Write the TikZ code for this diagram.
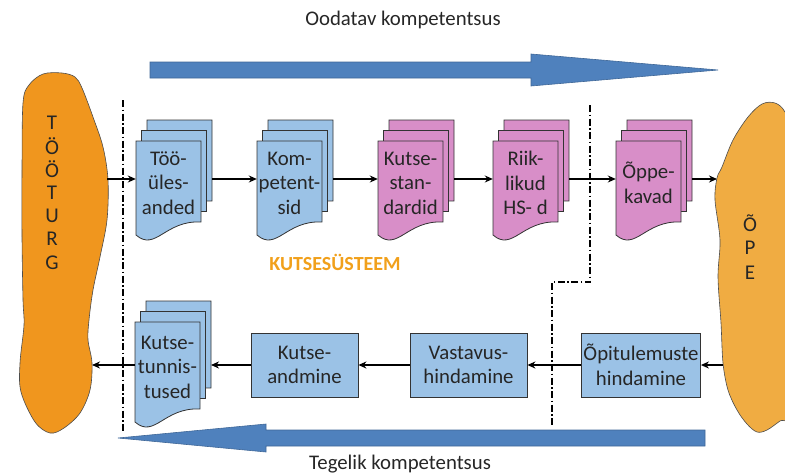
\documentclass[tikz,border=0pt]{standalone}
\usepackage{fontspec}
\setmainfont{Carlito}
\usetikzlibrary{arrows.meta}
\definecolor{docblue}{RGB}{155,194,230}
\definecolor{docpink}{RGB}{216,142,200}
\definecolor{turgorange}{RGB}{240,150,30}
\definecolor{opeorange}{RGB}{240,172,66}
\definecolor{bigblue}{RGB}{79,129,189}
\definecolor{textgray}{RGB}{38,38,38}
\begin{document}
\begin{tikzpicture}
[x=1pt,y=-1pt,
  pagedecorate/.style={draw=black!80,line width=0.8pt},%
  doctext/.style={text=textgray,align=center,inner sep=0pt,minimum width=65pt,
    font=\fontsize{20.8}{24.5}\selectfont},%
  boxdecorate/.style={draw=black!80,line width=0.8pt,fill=docblue,text=textgray,
    align=center,inner sep=2pt,minimum height=64pt,font=\fontsize{20.8}{24.5}\selectfont},%
  blobdecorate/.style={draw=black!70,line width=0.6pt},%
  blobletter/.style={text=textgray,inner sep=0pt,font=\fontsize{21}{24}\selectfont},%
  linedecorate/.style={-{Stealth[length=8pt,width=7pt]},line width=1.3pt},%
  dashdotdecorate/.style={line width=1.3pt,
    dash pattern=on 7pt off 2.5pt on 1.5pt off 2.5pt},%
  bigarrow/.style={fill=bigblue,draw=bigblue!80!black,line width=0.6pt}]
\useasboundingbox (0,0) rectangle (785,475);
\clip (0,0) rectangle (785,475);
%% labels above and below
\node (expected) at (403,20) {\fontsize{20.8}{24}\selectfont\color{textgray}Oodatav kompetentsus};
\node (actual) at (400,464) {\fontsize{20.8}{24}\selectfont\color{textgray}Tegelik kompetentsus};
%% big arrows
\filldraw[bigarrow] (150,62) -- (531,62) -- (531,54) -- (718,70) -- (531,86)
  -- (531,78) -- (150,78) -- cycle;
\filldraw[bigarrow] (705,430) -- (266,430) -- (266,424) -- (118,438) -- (266,452)
  -- (266,446) -- (705,446) -- cycle;
%% left and right blobs
\filldraw[blobdecorate,fill=turgorange] plot[smooth cycle,tension=0.55] coordinates
  {(43,74) (62,73) (75,77) (82,88) (93,117) (103,147) (108,180) (107,220)
   (100,257) (93,290) (89,320) (88,340) (92,363) (90,390) (80,413) (64,428)
   (50,433) (35,422) (21,392) (20,363) (24,325) (23,300) (22,237) (22,170)
   (23,103) (29,85)};
\foreach \letter [count=\i] in {T,Ö,Ö,T,U,R,G}
  \node[blobletter] (turg-\i) at (52,100+23.2*\i) {\letter};
\filldraw[blobdecorate,fill=opeorange] plot[smooth cycle,tension=0.55] coordinates
  {(762,104) (775,103) (785,112) (796,140) (800,300) (796,410) (780,421)
   (767,430) (757,432) (747,424) (737,410) (728,390) (723,363) (721,323)
   (718,277) (720,240) (715,200) (717,178) (722,167) (733,140) (748,117)};
\foreach \letter/\y in {Õ/223, P/248, E/273}
  \node[blobletter] (ope-\letter) at (750,\y) {\letter};
\coordinate (turg-out) at (107,179);
\coordinate (turg-in) at (92,365);
\coordinate (ope-in) at (717,179);
\coordinate (ope-out) at (723,365);
\coordinate (toprow) at (0,179);
\coordinate (botrow) at (0,365);
%% dash-dot borders
\draw[dashdotdecorate] (123,100) -- (123,432);
\draw[dashdotdecorate] (590,105) -- (590,282) -- (552,282) -- (552,425);
%% document stacks
\foreach \name/\x/\y/\h/\col/\txt in {
  tu/136/141/81/docblue/{Töö-\\üles-\\anded},
  ko/257/141/81/docblue/{Kom-\\petent-\\sid},
  ks/378/141/81/docpink/{Kutse-\\stan-\\dardid},
  rk/493/141/81/docpink/{Riik-\\likud\\HS- d},
  ok/616/141/81/docpink/{Õppe-\\kavad},
  kt/135/322/87/docblue/{Kutse-\\tunnis-\\tused}} {
  \foreach \dx/\dy in {11/-21, 5.5/-10.5, 0/0} {
    \begin{scope}[shift={(\x+\dx,\y+\dy)}]
      \filldraw[pagedecorate,fill=\col] (0,0) -- (65,0) -- (65,\h)
        .. controls (29,\h-2) and (19.5,\h+30) .. (0,\h+13) -- cycle;
    \end{scope}
  }
  \node[doctext] (\name) at (\x+32.5,\y+\h/2+1.5) {\txt};
  \coordinate (\name-out) at (\x+76,\y+\h/2);
}
%% boxes of the lower row
\node[boxdecorate,minimum width=107pt] (ka) at (304.5,365) {Kutse-\\andmine};
\node[boxdecorate,minimum width=117pt] (va) at (468.5,365) {Vastavus-\\hindamine};
\node[boxdecorate,minimum width=116pt] (op) at (641,365) {Õpitulemuste\\hindamine};
\node[font=\fontsize{20}{24}\selectfont\bfseries,text=turgorange!90!yellow]
  (system) at (335,262) {KUTSESÜSTEEM};
%% edges or lines
\foreach \startnode/\endnode in {turg-out/tu, tu-out/ko, ko-out/ks, ks-out/rk, rk-out/ok}
  \draw[linedecorate] (\startnode |- toprow) -- (\endnode.west |- toprow);
\draw[linedecorate] (ok-out |- toprow) -- (ope-in);
\draw[linedecorate] (ope-out) -- (op.east);
\foreach \startnode/\endnode in {op/va, va/ka}
  \draw[linedecorate] (\startnode.west) -- (\endnode.east);
\draw[linedecorate] (ka.west) -- (kt-out |- botrow);
\draw[linedecorate] (kt.west |- botrow) -- (turg-in);
\end{tikzpicture}
\end{document}
